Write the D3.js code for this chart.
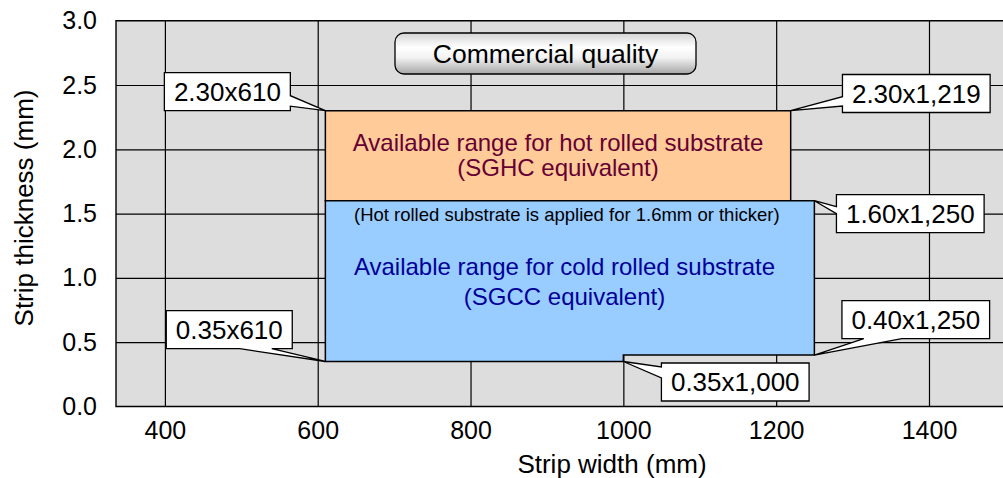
<!DOCTYPE html>
<html>
<head>
<meta charset="utf-8">
<script src="https://cdn.jsdelivr.net/npm/d3@7"></script>
<style>
  body { margin: 0; background: #fff; }
  svg text { font-family: "Liberation Sans", Arial, sans-serif; }
</style>
</head>
<body>
<svg id="chart"></svg>
<script>
// Tick values (mm)
const widthTicks = [400, 600, 800, 1000, 1200, 1400];
const thicknessTicks = [0, 0.5, 1.0, 1.5, 2.0, 2.5, 3.0];
// Available ranges, outlines as [width, thickness]
const hotRange = [[610, 1.6], [1219, 1.6], [1219, 2.3], [610, 2.3]];
const coldRange = [[610, 0.35], [1000, 0.35], [1000, 0.4], [1250, 0.4], [1250, 1.6], [610, 1.6]];
// Corner callouts
const cornerLabels = ['2.30x610', '2.30x1,219', '1.60x1,250', '0.35x610', '0.40x1,250', '0.35x1,000'];
const cornerWidths = [610, 1219, 1250, 610, 1250, 1000];
const cornerThickness = [2.3, 2.3, 1.6, 0.35, 0.4, 0.35];
// Texts
const hotText = ['Available range for hot rolled substrate', '(SGHC equivalent)'];
const coldText = ['Available range for cold rolled substrate', '(SGCC equivalent)'];
const noteText = '(Hot rolled substrate is applied for 1.6mm or thicker)';
const titleText = 'Commercial quality';

// Layout
const W = 1003, H = 478;
const x = d3.scaleLinear().domain([336, 1500]).range([116, 1005.4]);
const y = d3.scaleLinear().domain([0, 3]).range([406.5, 20.7]);
const plotW = x(1500) - x(336);
const plotH = y(0) - y(3);

// callout box offsets from their corner point (px), wedge side and wedge base
const calloutLayout = [
  { dx: -98, dy: -19, side: 'right', w: [4, 14.5] },
  { dx: 125.6, dy: -17.2, side: 'left', w: [3.2, 12.5] },
  { dx: 95.9, dy: 12.9, side: 'left', w: [-7, 0] },
  { dx: -96.1, dy: -31.8, side: 'bottom', w: [10.5, 42.5] },
  { dx: 101.4, dy: -35.5, side: 'bottom', w: [-52, -14] },
  { dx: 111.9, dy: 20.5, side: 'left', w: [-15, -4] },
];

const svg = d3.select('#chart').attr('width', W).attr('height', H);

// gradient for the title box
const grad = svg.append('defs').append('linearGradient')
  .attr('id', 'pillow').attr('x1', 0).attr('y1', 0).attr('x2', 0).attr('y2', 1);
grad.append('stop').attr('offset', '0%').attr('stop-color', '#d4d4d4');
grad.append('stop').attr('offset', '35%').attr('stop-color', '#ffffff');
grad.append('stop').attr('offset', '60%').attr('stop-color', '#f2f2f2');
grad.append('stop').attr('offset', '100%').attr('stop-color', '#a6a6a6');

// plot background
svg.append('rect')
  .attr('x', x(336)).attr('y', y(3))
  .attr('width', plotW).attr('height', plotH)
  .attr('fill', '#dddddd');

// gridlines
svg.append('g')
  .attr('transform', `translate(0,${y(0)})`)
  .call(d3.axisBottom(x).tickValues(widthTicks).tickSize(-plotH).tickFormat(''))
  .call(g => g.select('.domain').remove())
  .selectAll('line').attr('stroke', '#000').attr('stroke-width', 1.2);
svg.append('g')
  .attr('transform', `translate(${x(336)},0)`)
  .call(d3.axisLeft(y).tickValues(thicknessTicks.filter(t => t > 0 && t < 3)).tickSize(-plotW).tickFormat(''))
  .call(g => g.select('.domain').remove())
  .selectAll('line').attr('stroke', '#000').attr('stroke-width', 1.2);

// ranges
const line = d3.line().x(d => x(d[0])).y(d => y(d[1])).curve(d3.curveLinearClosed);
svg.append('path').attr('d', line(hotRange))
  .attr('fill', '#ffcc99').attr('stroke', '#000').attr('stroke-width', 1.5);
svg.append('path').attr('d', line(coldRange))
  .attr('fill', '#99ccff').attr('stroke', '#000').attr('stroke-width', 1.5);

// plot border (left, top, bottom)
svg.append('path')
  .attr('d', `M${x(1500)},${y(3)}H${x(336)}V${y(0)}H${x(1500)}`)
  .attr('fill', 'none').attr('stroke', '#000').attr('stroke-width', 1.4);

// axis tick labels
const yAxisG = svg.append('g')
  .attr('transform', `translate(${x(336)},0)`)
  .call(d3.axisLeft(y).tickValues(thicknessTicks).tickSize(0).tickPadding(19).tickFormat(d3.format('.1f')));
yAxisG.select('.domain').remove();
yAxisG.selectAll('text').style('font-size', '25px').attr('fill', '#000');

const xAxisG = svg.append('g')
  .attr('transform', `translate(0,${y(0)})`)
  .call(d3.axisBottom(x).tickValues(widthTicks).tickSize(0).tickPadding(15).tickFormat(d3.format('d')));
xAxisG.select('.domain').remove();
xAxisG.selectAll('text').style('font-size', '25px').attr('fill', '#000');

// axis titles
svg.append('text')
  .attr('x', 612).attr('y', 473)
  .attr('text-anchor', 'middle').style('font-size', '26px')
  .text('Strip width (mm)');
svg.append('text')
  .attr('transform', 'translate(32.5,208) rotate(-90)')
  .attr('text-anchor', 'middle').style('font-size', '26px')
  .text('Strip thickness (mm)');

// range texts
svg.selectAll('.hot-text').data(hotText).join('text')
  .attr('class', 'hot-text')
  .attr('x', x(914.5)).attr('y', (d, i) => y([1.99, 1.79][i]))
  .attr('text-anchor', 'middle').style('font-size', '24px').attr('fill', '#660033')
  .text(d => d);
svg.append('text')
  .attr('x', x(926)).attr('y', y(1.44))
  .attr('text-anchor', 'middle').style('font-size', '18.5px').attr('fill', '#000')
  .text(noteText);
svg.selectAll('.cold-text').data(coldText).join('text')
  .attr('class', 'cold-text')
  .attr('x', x(923)).attr('y', (d, i) => y([1.025, 0.79][i]))
  .attr('text-anchor', 'middle').style('font-size', '24px').attr('fill', '#000099')
  .text(d => d);

// title box
svg.append('rect')
  .attr('x', 395).attr('y', 33).attr('width', 301).attr('height', 41).attr('rx', 9)
  .attr('fill', 'url(#pillow)').attr('stroke', '#000').attr('stroke-width', 1.3);
svg.append('text')
  .attr('x', 545.5).attr('y', 63)
  .attr('text-anchor', 'middle').style('font-size', '26.5px')
  .text(titleText);

// corner callouts
const callouts = svg.selectAll('.callout')
  .data(cornerLabels.map((label, i) => ({
    label, w: cornerWidths[i], t: cornerThickness[i], lay: calloutLayout[i]
  })))
  .join('g')
  .attr('class', 'callout')
  .attr('transform', d => `translate(${x(d.w)},${y(d.t)})`);

callouts.each(function (d) {
  const g = d3.select(this);
  const txt = g.append('text')
    .attr('x', d.lay.dx).attr('y', d.lay.dy).attr('dy', '0.35em')
    .attr('text-anchor', 'middle').style('font-size', '26px')
    .text(d.label);
  const bw = txt.node().getComputedTextLength() + 19;
  const bh = 38;
  const { dx, dy, side, w } = d.lay;
  const x0 = dx - bw / 2, x1 = dx + bw / 2, y0 = dy - bh / 2, y1 = dy + bh / 2;
  let p;
  if (side === 'right') {
    p = `M${x0},${y0}L${x1},${y0}L${x1},${dy + w[0]}L0,0L${x1},${dy + w[1]}L${x1},${y1}L${x0},${y1}Z`;
  } else if (side === 'left') {
    p = `M${x0},${y0}L${x1},${y0}L${x1},${y1}L${x0},${y1}L${x0},${dy + w[1]}L0,0L${x0},${dy + w[0]}Z`;
  } else {
    p = `M${x0},${y0}L${x1},${y0}L${x1},${y1}L${dx + w[1]},${y1}L0,0L${dx + w[0]},${y1}L${x0},${y1}Z`;
  }
  g.insert('path', 'text').attr('d', p)
    .attr('fill', '#fff').attr('stroke', '#000').attr('stroke-width', 1.3)
    .attr('stroke-linejoin', 'miter');
});
</script>
</body>
</html>
